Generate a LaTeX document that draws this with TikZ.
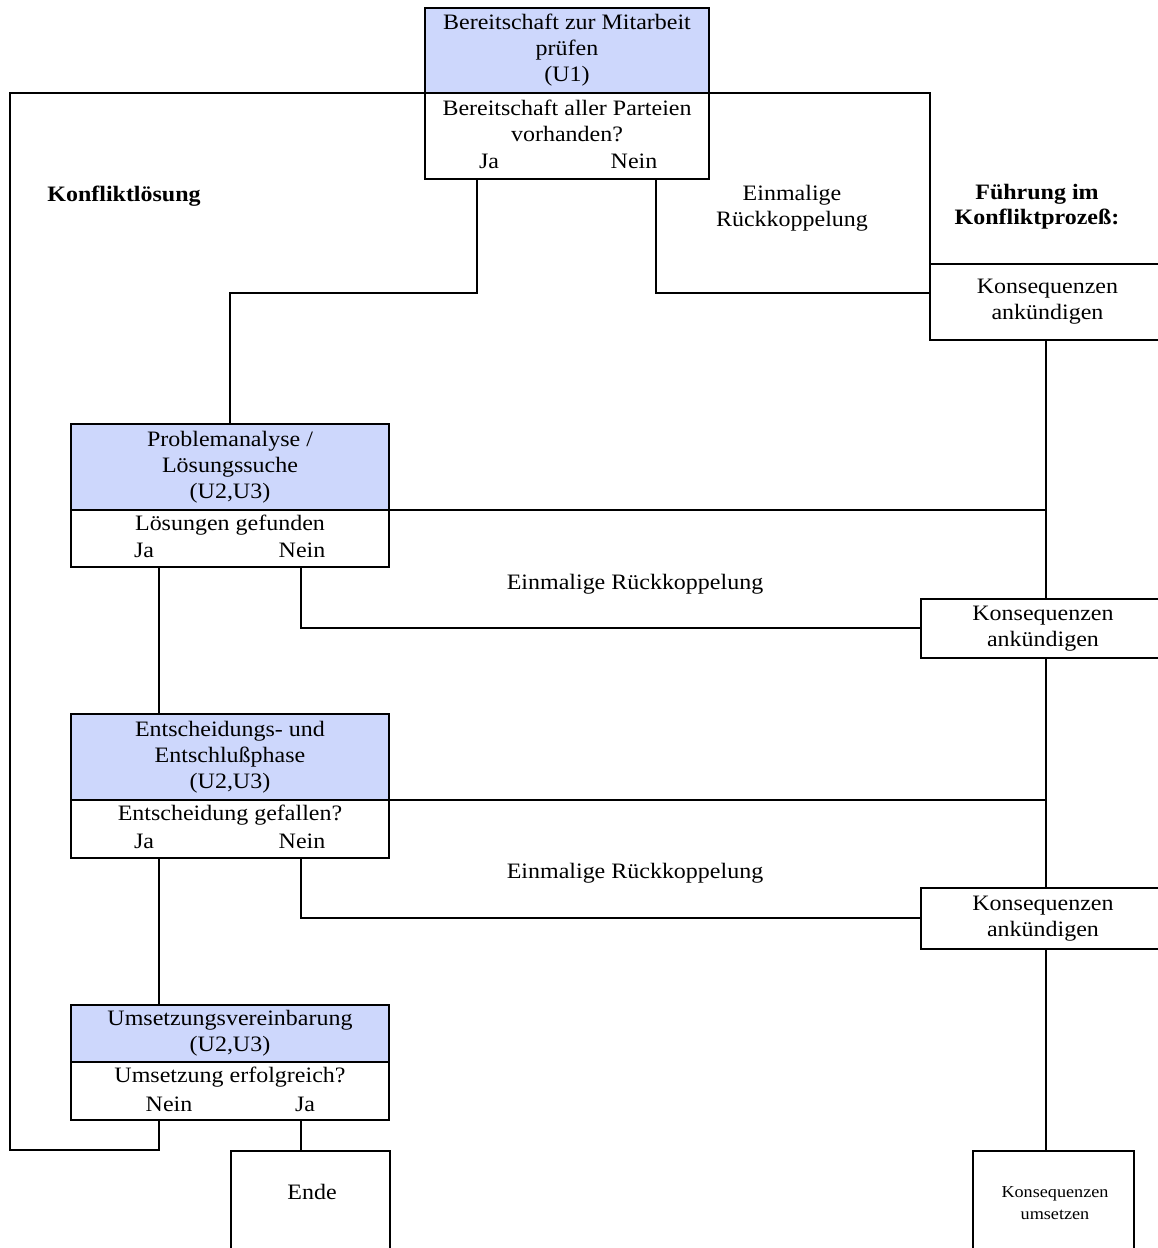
\documentclass[tikz,border=0pt]{standalone}
\usepackage{fontspec}
\setmainfont{Liberation Serif}[FakeStretch=1.09]
\definecolor{hdrblue}{RGB}{205,215,252}
\begin{document}
\begin{tikzpicture}[x=0.75pt,y=-0.75pt,
  every node/.style={inner sep=0pt, outer sep=0pt, font=\fontsize{16.5}{19.5}\selectfont},
  box/.style={draw, line width=1.2pt, rectangle, anchor=north west, align=center},
  hdr/.style={box, fill=hdrblue},
  lbl/.style={align=center},
  bold/.style={align=center, font=\fontsize{16.5}{19}\selectfont\bfseries},
  conn/.style={draw, line width=1.2pt}
]
\useasboundingbox (0,0) rectangle (1157,1248);
% ---- U1 ----
\node[hdr, minimum width=213pt, minimum height=63.75pt] (u1h) at (425,8) {Bereitschaft zur Mitarbeit\\prüfen\\(U1)};
\node[box, minimum width=213pt, minimum height=64.5pt] (u1q) at (425,93) {};
\node[lbl] (u1qt) at (567,121) {Bereitschaft aller Parteien\\vorhanden?};
\node[lbl] (u1ja) at (489,161) {Ja};
\node[lbl] (u1nein) at (634,161) {Nein};
% ---- P ----
\node[hdr, minimum width=238.5pt, minimum height=64.5pt] (ph) at (71,424) {Problemanalyse /\\Lösungssuche\\(U2,U3)};
\node[box, minimum width=238.5pt, minimum height=42.75pt] (pq) at (71,510) {};
\node[lbl] (pqt) at (230,525) {Lösungen gefunden};
\node[lbl] (pja) at (144,550) {Ja};
\node[lbl] (pnein) at (302,550) {Nein};
% ---- E ----
\node[hdr, minimum width=238.5pt, minimum height=64.5pt] (eh) at (71,714) {Entscheidungs- und\\Entschlußphase\\(U2,U3)};
\node[box, minimum width=238.5pt, minimum height=43.5pt] (eq) at (71,800) {};
\node[lbl] (eqt) at (230,815) {Entscheidung gefallen?};
\node[lbl] (eja) at (144,841) {Ja};
\node[lbl] (enein) at (302,841) {Nein};
% ---- U ----
\node[hdr, minimum width=238.5pt, minimum height=42.75pt] (uh) at (71,1005) {Umsetzungsvereinbarung\\(U2,U3)};
\node[box, minimum width=238.5pt, minimum height=43.5pt] (uq) at (71,1062) {};
\node[lbl] (uqt) at (230,1077) {Umsetzung erfolgreich?};
\node[lbl] (unein) at (169,1104) {Nein};
\node[lbl] (uja) at (305,1104) {Ja};
% ---- right column ----
\node[box, minimum width=176.25pt, minimum height=57pt] (k1) at (930,264) {Konsequenzen\\ankündigen};
\node[box, minimum width=183pt, minimum height=44.25pt] (k2) at (921,599) {Konsequenzen\\ankündigen};
\node[box, minimum width=183pt, minimum height=45.75pt] (k3) at (921,888) {Konsequenzen\\ankündigen};
\node[box, minimum width=120.75pt, minimum height=81pt] (k4) at (973,1151) {};
\node[lbl, font=\fontsize{12.5}{16}\selectfont] (k4t) at (1055,1203) {Konsequenzen\\umsetzen};
\node[box, minimum width=119.25pt, minimum height=81pt] (ende) at (231,1151) {};
\node[lbl] (endet) at (312,1192) {Ende};
% ---- titles ----
\node[bold] (t1) at (124,196) {Konfliktlösung};
\node[bold] (t2) at (1037,207) {Führung im\\Konfliktprozeß:};
\node[lbl] (r1) at (792,208) {Einmalige\\Rückkoppelung};
\node[lbl] (r2) at (635,584) {Einmalige Rückkoppelung};
\node[lbl] (r3) at (635,873) {Einmalige Rückkoppelung};
% ---- connectors ----
\coordinate (c1) at (477,293);
\coordinate (c2) at (656,293);
\path[conn] (u1q.south -| c1) -- (c1) -- (c1 -| ph.north) -- (ph.north);
\path[conn] (u1q.south -| c2) -- (c2) -- (c2 -| k1.west);
\coordinate (fl) at (10,93);
\coordinate (fr) at (930,93);
\coordinate (fb) at (10,1150);
\coordinate (un) at (159,1150);
\path[conn] (u1q.north west) -- (fl) -- (fb) -- (un) -- (un |- uq.south);
\path[conn] (u1q.north east) -- (fr) -- (k1.north west);
\coordinate (kx) at (1046,0);
\path[conn] (k1.south -| kx) -- (k2.north -| kx);
\path[conn] (pq.north east) -- (pq.north east -| kx);
\coordinate (pj) at (159,0);
\coordinate (pn) at (301,628);
\path[conn] (pq.south -| pj) -- (eh.north -| pj);
\path[conn] (pq.south -| pn) -- (pn) -- (pn -| k2.west);
\path[conn] (k2.south -| kx) -- (k3.north -| kx);
\path[conn] (eq.north east) -- (eq.north east -| kx);
\coordinate (en) at (301,918);
\path[conn] (eq.south -| pj) -- (uh.north -| pj);
\path[conn] (eq.south -| en) -- (en) -- (en -| k3.west);
\path[conn] (k3.south -| kx) -- (k4.north -| kx);
\coordinate (uj) at (301,0);
\path[conn] (uq.south -| uj) -- (ende.north -| uj);
\end{tikzpicture}
\end{document}
